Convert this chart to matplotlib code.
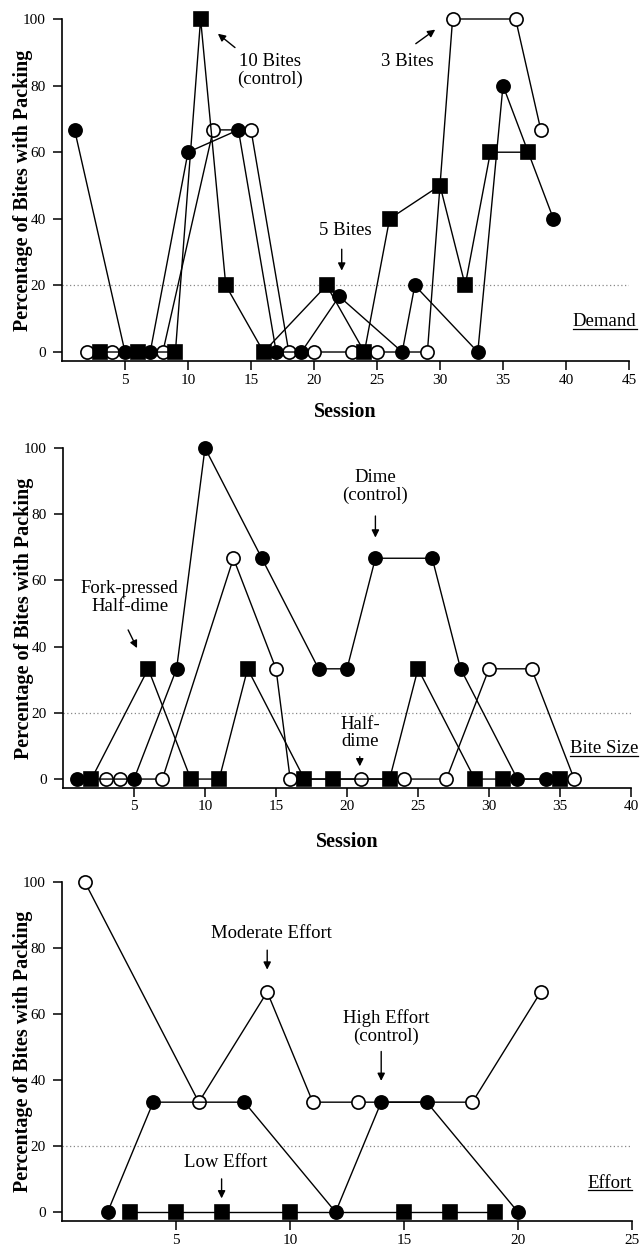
import matplotlib
matplotlib.use('Agg')
import matplotlib.pyplot as plt
from matplotlib.lines import Line2D

plt.rcParams['font.family'] = ['Liberation Serif', 'DejaVu Serif']

# Demand panel
demand_filled_x = [1, 5, 7, 10, 14, 17, 19, 22, 27, 28, 33, 35, 39]
demand_filled_y = [66.7, 0, 0, 60, 66.7, 0, 0, 16.7, 0, 20, 0, 80, 40]
demand_square_x = [3, 6, 9, 11, 13, 16, 21, 24, 26, 30, 32, 34, 37]
demand_square_y = [0, 0, 0, 100, 20, 0, 20, 0, 40, 50, 20, 60, 60]
demand_open_x = [2, 4, 8, 12, 15, 18, 20, 23, 25, 29, 31, 36, 38]
demand_open_y = [0, 0, 0, 66.7, 66.7, 0, 0, 0, 0, 0, 100, 100, 66.7]

# Bite size panel
bite_filled_x = [1, 5, 8, 10, 14, 18, 20, 22, 26, 28, 32, 34]
bite_filled_y = [0, 0, 33.3, 100, 66.7, 33.3, 33.3, 66.7, 66.7, 33.3, 0, 0]
bite_square_x = [2, 6, 9, 11, 13, 17, 19, 23, 25, 29, 31, 35]
bite_square_y = [0, 33.3, 0, 0, 33.3, 0, 0, 0, 33.3, 0, 0, 0]
bite_open_x = [3, 4, 7, 12, 15, 16, 21, 24, 27, 30, 33, 36]
bite_open_y = [0, 0, 0, 66.7, 33.3, 0, 0, 0, 0, 33.3, 33.3, 0]

# Effort panel
effort_filled_x = [2, 4, 8, 12, 14, 16, 20]
effort_filled_y = [0, 33.3, 33.3, 0, 33.3, 33.3, 0]
effort_square_x = [3, 5, 7, 10, 15, 17, 19]
effort_square_y = [0, 0, 0, 0, 0, 0, 0]
effort_open_x = [1, 6, 9, 11, 13, 18, 21]
effort_open_y = [100, 33.3, 66.7, 33.3, 33.3, 33.3, 66.7]

fig = plt.figure(figsize=(6.4, 12.47), dpi=100)

W, H = 640.0, 1247.0
def axes_px(left, right, top, bottom):
    return fig.add_axes([left / W, 1 - bottom / H, (right - left) / W, (bottom - top) / H])

ax1 = axes_px(62, 629, 19, 361)
ax2 = axes_px(63, 631, 448, 788)
ax3 = axes_px(62, 632, 882, 1221)

def draw_series(ax, x, y, kind):
    if kind == 'filled':
        kw = dict(marker='o', markerfacecolor='black')
    elif kind == 'square':
        kw = dict(marker='s', markerfacecolor='black')
    else:
        kw = dict(marker='o', markerfacecolor='white')
    ax.plot(x, y, color='black', linewidth=1.0, markersize=9.5,
            markeredgecolor='black', markeredgewidth=1.2, clip_on=False, zorder=3, **kw)

def style_axis(ax, xmax, xticks):
    ax.set_xlim(0, xmax)
    ax.set_ylim(-2.7, 100)
    ax.spines['top'].set_visible(False)
    ax.spines['right'].set_visible(False)
    ax.spines['left'].set_linewidth(1.2)
    ax.spines['bottom'].set_linewidth(1.2)
    ax.set_yticks([0, 20, 40, 60, 80, 100])
    ax.set_xticks(xticks)
    ax.tick_params(direction='out', length=6.5, width=1.1, labelsize=11)
    ax.tick_params(axis='y', pad=5)
    ax.tick_params(axis='x', pad=2.5)
    ax.axhline(20, color='#888888', linestyle=(0, (1, 2)), linewidth=0.9, zorder=1)
    ax.set_ylabel('Percentage of Bites with Packing', fontsize=14.5, fontweight='bold', labelpad=-7)

def underlined(ax, x, y, s):
    t = ax.text(x, y, s, ha='right', va='center', fontsize=13.5)
    fig.canvas.draw()
    bb = t.get_window_extent().transformed(fig.transFigure.inverted())
    fig.add_artist(Line2D([bb.x0, bb.x1], [bb.y0 + 0.001, bb.y0 + 0.001],
                          color='black', linewidth=0.9, transform=fig.transFigure))

def note(ax, s, xy_text, xy_tail, xy_head):
    ax.text(xy_text[0], xy_text[1], s, ha='center', va='center', fontsize=13.5, linespacing=1.05)
    ax.annotate('', xy=xy_head, xytext=xy_tail,
                arrowprops=dict(arrowstyle='-|>', color='black', lw=1.0, mutation_scale=11))

# Demand
for x, y, k in [(demand_open_x, demand_open_y, 'open'),
                (demand_filled_x, demand_filled_y, 'filled'),
                (demand_square_x, demand_square_y, 'square')]:
    draw_series(ax1, x, y, k)
style_axis(ax1, 45, range(5, 50, 5))
ax1.set_xlabel('Session', fontsize=14.5, fontweight='bold', labelpad=11)
note(ax1, '10 Bites\n(control)', (16.5, 84.6), (13.9, 90.9), (12.2, 96.1))
note(ax1, '3 Bites', (27.4, 87.3), (27.9, 92.1), (29.8, 97.3))
note(ax1, '5 Bites', (22.5, 36.6), (22.2, 31.7), (22.2, 23.6))

# Bite size
for x, y, k in [(bite_open_x, bite_open_y, 'open'),
                (bite_filled_x, bite_filled_y, 'filled'),
                (bite_square_x, bite_square_y, 'square')]:
    draw_series(ax2, x, y, k)
style_axis(ax2, 40, range(5, 45, 5))
ax2.set_xlabel('Session', fontsize=14.5, fontweight='bold', labelpad=13)
note(ax2, 'Fork-pressed\nHalf-dime', (4.7, 54.8), (4.5, 45.8), (5.3, 38.8))
note(ax2, 'Dime\n(control)', (22.0, 88.5), (22.0, 80.3), (22.0, 72.1))
note(ax2, 'Half-\ndime', (20.9, 13.9), (20.9, 7.6), (20.9, 3.0))

# Effort
for x, y, k in [(effort_open_x, effort_open_y, 'open'),
                (effort_filled_x, effort_filled_y, 'filled'),
                (effort_square_x, effort_square_y, 'square')]:
    draw_series(ax3, x, y, k)
style_axis(ax3, 25, range(5, 30, 5))
note(ax3, 'Moderate Effort', (9.2, 84.5), (9.0, 80.2), (9.0, 72.6))
note(ax3, 'Low Effort', (7.2, 14.9), (7.0, 10.9), (7.0, 3.3))
note(ax3, 'High Effort\n(control)', (14.2, 56.2), (14.0, 49.5), (14.0, 38.9))

underlined(ax1, 45.6, 9.1, 'Demand')
underlined(ax2, 40.5, 9.1, 'Bite Size')
underlined(ax3, 25.0, 8.8, 'Effort')

fig.savefig('out.png', dpi=100)
